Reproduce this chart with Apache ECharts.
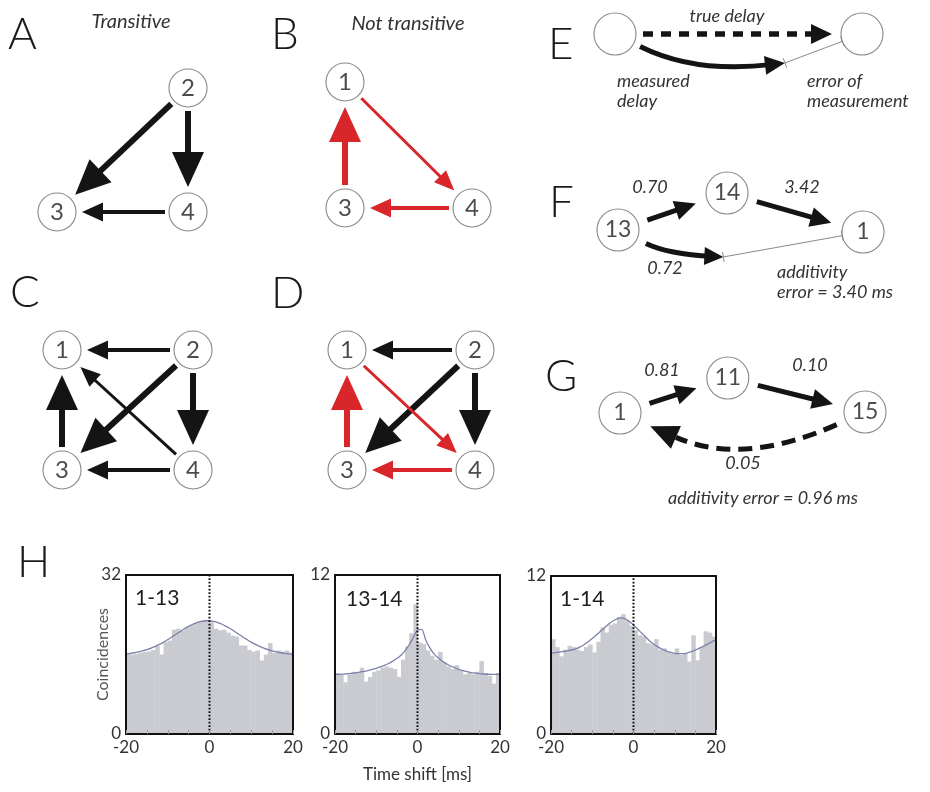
<!DOCTYPE html>
<html><head><meta charset="utf-8">
<script src="https://cdn.jsdelivr.net/npm/echarts@6/dist/echarts.min.js"></script>
<style>html,body{margin:0;padding:0;background:#fff}#c{width:930px;height:792px}</style>
</head><body><div id="c"></div>
<script>
// ================= DATA =================
// Network diagrams: nodes [id, x, y, label|null(anchor point)], edges [from, to, kind]
const A_nodes = [['2',1,1,'2'],['3',0,0,'3'],['4',1,0,'4']];
const A_edges = [['2','3','thick'],['2','4','thick'],['4','3','mid']];
const B_nodes = [['1',0,1,'1'],['3',0,0,'3'],['4',1,0,'4']];
const B_edges = [['3','1','thickRed'],['1','4','thinRed'],['4','3','midRed']];
const C_nodes = [['1',0,1,'1'],['2',1,1,'2'],['3',0,0,'3'],['4',1,0,'4']];
const C_edges = [['2','1','mid'],['2','3','thick'],['2','4','thick'],['4','1','thin'],['4','3','mid'],['3','1','thick']];
const D_nodes = [['1',0,1,'1'],['2',1,1,'2'],['3',0,0,'3'],['4',1,0,'4']];
const D_edges = [['2','1','mid'],['2','3','thick'],['2','4','thick'],['1','4','thinRed'],['4','3','midRed'],['3','1','thickRed']];
const E_nodes = [['a',0,0,''],['b',1,0,''],['m',0.688,-0.117,null]];
const E_edges = [['a','b','dashed'],['a','m','curvedE'],['m','b','error']];
const F_nodes = [['13',0,0,'13'],['14',0.445,0.151,'14'],['1',1.0,-0.008,'1'],['x',0.43,-0.11,null]];
const F_edges = [['13','14','arrow'],['14','1','arrow'],['13','x','curvedF'],['x','1','error']];
const F_delays = ['0.70','3.42','0.72'];
const F_error = '3.40';
const G_nodes = [['1',0,0,'1'],['11',0.44,0.143,'11'],['15',1.0,0.004,'15']];
const G_edges = [['1','11','arrow'],['11','15','arrow'],['15','1','dashedCurved']];
const G_delays = ['0.81','0.10','0.05'];
const G_error = '0.96';

// Cross-correlograms (panel H)
const BIN_X = [-19.5,-18.5,-17.5,-16.5,-15.5,-14.5,-13.5,-12.5,-11.5,-10.5,-9.5,-8.5,-7.5,-6.5,-5.5,-4.5,-3.5,-2.5,-1.5,-0.5,
  0.5,1.5,2.5,3.5,4.5,5.5,6.5,7.5,8.5,9.5,10.5,11.5,12.5,13.5,14.5,15.5,16.5,17.5,18.5,19.5];
const FIT_X = [-20,-19,-18,-17,-16,-15,-14,-13,-12,-11,-10,-9,-8,-7,-6,-5,-4,-3,-2,-1,0,
  1,2,3,4,5,6,7,8,9,10,11,12,13,14,15,16,17,18,19,20];
const H_names = ['1-13','13-14','1-14'];
const H_ymax = [32, 12, 12];
const H1_bins = [16.2,16.0,16.1,16.3,16.5,16.6,16.9,17.7,16.0,18.5,18.8,21.0,21.2,20.8,21.4,22.0,22.3,22.6,22.9,23.0,
  22.5,21.2,20.9,21.0,20.4,19.8,19.6,17.8,17.8,16.9,16.6,16.8,14.8,16.0,18.3,16.3,16.8,16.6,16.8,16.4];
const H1_fit = [16.13,16.23,16.35,16.51,16.71,16.96,17.27,17.62,18.03,18.49,19.00,19.53,20.09,20.64,21.17,21.66,22.09,22.43,22.66,22.79,22.79,
  22.66,22.43,22.09,21.66,21.17,20.64,20.09,19.53,19.00,18.49,18.03,17.62,17.27,16.96,16.71,16.51,16.35,16.23,16.13,16.05];
const H2_bins = [4.6,4.5,3.9,4.5,4.7,4.6,5.0,3.95,4.3,4.7,4.8,5.0,5.1,5.0,4.9,4.3,5.6,6.6,7.6,9.8,
  6.9,6.8,6.3,5.9,5.6,6.2,5.4,5.1,4.9,5.2,4.8,4.5,4.6,4.5,4.7,5.5,4.6,4.4,3.8,4.6];
const H2_fit = [4.5,4.5,4.52,4.55,4.58,4.62,4.67,4.72,4.79,4.87,4.96,5.06,5.18,5.32,5.5,5.7,5.95,6.3,6.75,7.3,7.85,
  7.9,7.1,6.5,6.05,5.75,5.5,5.3,5.13,5.0,4.88,4.78,4.7,4.64,4.6,4.56,4.53,4.51,4.5,4.5,4.52];
const H3_bins = [7.2,6.6,5.9,6.4,6.7,6.6,6.4,6.3,6.6,6.8,6.2,7.0,8.1,7.7,8.3,8.4,8.9,9.1,8.6,8.2,
  7.9,7.5,7.4,6.9,6.8,7.2,6.4,6.5,6.2,6.1,6.5,6.0,6.1,5.5,7.5,5.6,6.6,7.8,7.7,7.4];
const H3_fit = [6.15,6.18,6.22,6.27,6.32,6.38,6.47,6.6,6.78,7.0,7.25,7.52,7.8,8.07,8.35,8.58,8.75,8.82,8.75,8.55,8.28,
  7.98,7.65,7.35,7.05,6.8,6.6,6.43,6.3,6.2,6.13,6.1,6.1,6.15,6.25,6.38,6.52,6.67,6.83,7.0,7.17];
const X_LABELED = [-20, 0, 20];

// ================= STYLE / LAYOUT =================
const FONT = "Lato, 'DejaVu Sans', sans-serif";
const BLACK = '#141414', RED = '#d8262a', BAR_GRAY = '#c9cbd1', FIT_COLOR = '#7e80a8', TXT = '#1e1e1e';
const BIN_W = 1;
const EDGE_STYLE = {
  thick:    {w: 6,   hl: 35, hw: 32, color: BLACK},
  mid:      {w: 4,   hl: 21, hw: 19, color: BLACK},
  thin:     {w: 3,   hl: 20, hw: 17, color: BLACK},
  thickRed: {w: 6,   hl: 35, hw: 32, color: RED},
  midRed:   {w: 4,   hl: 21, hw: 19, color: RED},
  thinRed:  {w: 3,   hl: 20, hw: 17, color: RED},
  arrow:    {w: 5,   hl: 21, hw: 20, color: BLACK},
  dashed:   {w: 5.5, hl: 21, hw: 20, color: BLACK, dash: [10, 8]},
  curvedE:  {w: 5,   hl: 20, hw: 19, color: BLACK, curve: 0.15},
  curvedF:  {w: 5,   hl: 19, hw: 18, color: BLACK, curve: 0.1},
  dashedCurved: {w: 5, hl: 28, hw: 25, color: BLACK, dash: [14, 8], curve: -0.22},
  error:    {w: 1, color: '#8a8a8a', tick: 5}
};
const PANELS = [
  {nodes: A_nodes, edges: A_edges, origin: [57, 212], sx: 131, sy: 124, xr: [-0.3, 1.3], yr: [-0.3, 1.3], r: 19, gap: [4, 6], fs: 24},
  {nodes: B_nodes, edges: B_edges, origin: [345, 208], sx: 127, sy: 126, xr: [-0.3, 1.3], yr: [-0.3, 1.3], r: 19, gap: [4, 6], fs: 24},
  {nodes: C_nodes, edges: C_edges, origin: [62, 470], sx: 131, sy: 120, xr: [-0.3, 1.3], yr: [-0.3, 1.3], r: 19, gap: [4, 6], fs: 24},
  {nodes: D_nodes, edges: D_edges, origin: [347, 470], sx: 128, sy: 120, xr: [-0.3, 1.3], yr: [-0.3, 1.3], r: 19, gap: [4, 6], fs: 24},
  {nodes: E_nodes, edges: E_edges, origin: [615, 34], sx: 247, sy: 247, xr: [-0.15, 1.15], yr: [-0.25, 0.12], r: 21, gap: [7, 9], fs: 22},
  {nodes: F_nodes, edges: F_edges, origin: [618, 230], sx: 245, sy: 245, xr: [-0.15, 1.15], yr: [-0.25, 0.3], r: 21, gap: [10, 12], fs: 23},
  {nodes: G_nodes, edges: G_edges, origin: [620, 413], sx: 245, sy: 245, xr: [-0.15, 1.15], yr: [-0.25, 0.3], r: 21, gap: [10, 12], fs: 23}
];
const HIST = [
  {bins: H1_bins, fit: H1_fit, grid: {left: 126, top: 575, width: 167, height: 159}},
  {bins: H2_bins, fit: H2_fit, grid: {left: 335, top: 575, width: 165, height: 159}},
  {bins: H3_bins, fit: H3_fit, grid: {left: 551, top: 576, width: 165, height: 158}}
];

// ================= BUILD =================
const grid = [], xAxis = [], yAxis = [], series = [];
function unit(v) { const l = Math.hypot(v[0], v[1]) || 1; return [v[0] / l, v[1] / l]; }

function edgeRenderer(panel) {
  const idx = {};
  panel.nodes.forEach(n => { idx[n[0]] = n; });
  return function (params, api) {
    const e = panel.edges[params.dataIndex];
    const st = EDGE_STYLE[e[2]];
    const n1 = idx[e[0]], n2 = idx[e[1]];
    const a = api.coord([api.value(0), api.value(1)]);
    const b = api.coord([api.value(2), api.value(3)]);
    const r1 = n1[3] === null ? 0 : panel.r, r2 = n2[3] === null ? 0 : panel.r;
    const g1 = n1[3] === null ? 0 : panel.gap[0], g2 = n2[3] === null ? 0 : panel.gap[1];
    const L = Math.hypot(b[0] - a[0], b[1] - a[1]);
    const u = unit([b[0] - a[0], b[1] - a[1]]);
    if (st.tick) {
      const s = [a[0] + u[0] * r1, a[1] + u[1] * r1];
      const t = [b[0] - u[0] * r2, b[1] - u[1] * r2];
      const n = [-u[1] * st.tick, u[0] * st.tick];
      const ls = {stroke: st.color, lineWidth: st.w};
      return {type: 'group', children: [
        {type: 'line', shape: {x1: s[0], y1: s[1], x2: t[0], y2: t[1]}, style: ls},
        {type: 'line', shape: {x1: s[0] - n[0], y1: s[1] - n[1], x2: s[0] + n[0], y2: s[1] + n[1]}, style: ls},
        {type: 'line', shape: {x1: t[0] - n[0], y1: t[1] - n[1], x2: t[0] + n[0], y2: t[1] + n[1]}, style: ls}
      ]};
    }
    let cp = null, d1 = u, d2 = u;
    if (st.curve) {
      cp = [(a[0] + b[0]) / 2 - u[1] * st.curve * L, (a[1] + b[1]) / 2 + u[0] * st.curve * L];
      d1 = unit([cp[0] - a[0], cp[1] - a[1]]);
      d2 = unit([b[0] - cp[0], b[1] - cp[1]]);
    }
    const s = [a[0] + d1[0] * (r1 + g1), a[1] + d1[1] * (r1 + g1)];
    const tip = [b[0] - d2[0] * (r2 + g2), b[1] - d2[1] * (r2 + g2)];
    const base = [tip[0] - d2[0] * st.hl, tip[1] - d2[1] * st.hl];
    const k = st.dash ? 1.0 : 0.6;
    const se = [tip[0] - d2[0] * st.hl * k, tip[1] - d2[1] * st.hl * k];
    const nn = [-d2[1] * st.hw / 2, d2[0] * st.hw / 2];
    const lineStyle = {stroke: st.color, lineWidth: st.w, fill: null, lineDash: st.dash || null};
    const shaft = cp
      ? {type: 'bezierCurve', shape: {x1: s[0], y1: s[1], x2: se[0], y2: se[1], cpx1: cp[0], cpy1: cp[1]}, style: lineStyle}
      : {type: 'line', shape: {x1: s[0], y1: s[1], x2: se[0], y2: se[1]}, style: lineStyle};
    const head = {type: 'polygon', shape: {points: [tip, [base[0] + nn[0], base[1] + nn[1]], [base[0] - nn[0], base[1] - nn[1]]]},
      style: {fill: st.color}};
    return {type: 'group', children: [shaft, head]};
  };
}

PANELS.forEach((p, i) => {
  grid.push({left: p.origin[0] + p.xr[0] * p.sx, top: p.origin[1] - p.yr[1] * p.sy,
    width: (p.xr[1] - p.xr[0]) * p.sx, height: (p.yr[1] - p.yr[0]) * p.sy, show: false});
  xAxis.push({gridIndex: i, type: 'value', min: p.xr[0], max: p.xr[1], show: false});
  yAxis.push({gridIndex: i, type: 'value', min: p.yr[0], max: p.yr[1], show: false});
  const idx = {};
  p.nodes.forEach(n => { idx[n[0]] = n; });
  series.push({
    type: 'custom', xAxisIndex: i, yAxisIndex: i, z: 3, silent: true, clip: false,
    renderItem: edgeRenderer(p),
    data: p.edges.map(e => [idx[e[0]][1], idx[e[0]][2], idx[e[1]][1], idx[e[1]][2]])
  });
  series.push({
    type: 'scatter', xAxisIndex: i, yAxisIndex: i, z: 4, silent: true, clip: false,
    symbol: 'circle', symbolSize: 2 * p.r,
    itemStyle: {color: '#fff', borderColor: '#6a6a6a', borderWidth: 1.1},
    label: {show: p.nodes.some(n => n[3]), position: 'inside', formatter: '{b}', fontSize: p.fs,
      color: TXT, fontFamily: FONT},
    data: p.nodes.filter(n => n[3] !== null).map(n => ({name: n[3], value: [n[1], n[2]]}))
  });
});

const axisLineStyle = {color: '#111', width: 2};
HIST.forEach((h, j) => {
  const gi = grid.length;
  grid.push(Object.assign({show: false}, h.grid));
  const xb = xAxis.length;
  xAxis.push({gridIndex: gi, type: 'value', min: -20, max: 20, interval: 5, position: 'bottom', z: 6,
    axisLine: {show: true, onZero: false, lineStyle: axisLineStyle},
    axisTick: {show: true, inside: true, length: 4, lineStyle: {color: '#9a9a9a', width: 1}},
    axisLabel: {formatter: v => X_LABELED.includes(v) ? String(v) : '', fontSize: 17, color: '#333', margin: 5, fontFamily: FONT},
    splitLine: {show: false},
    name: j === 1 ? 'Time shift [ms]' : '', nameLocation: 'middle', nameGap: 32, nameMoveOverlap: false,
    nameTextStyle: {fontSize: 17, color: '#333', fontFamily: FONT}});
  xAxis.push({gridIndex: gi, type: 'value', min: -20, max: 20, position: 'top', z: 6,
    axisLine: {show: true, onZero: false, lineStyle: axisLineStyle}, axisTick: {show: false}, axisLabel: {show: false}, splitLine: {show: false}});
  const yb = yAxis.length;
  yAxis.push({gridIndex: gi, type: 'value', min: 0, max: H_ymax[j], interval: H_ymax[j], position: 'left', z: 6,
    axisLine: {show: true, onZero: false, lineStyle: axisLineStyle}, axisTick: {show: false},
    axisLabel: {fontSize: 17, color: '#333', margin: 5, fontFamily: FONT}, splitLine: {show: false},
    name: j === 0 ? 'Coincidences' : '', nameLocation: 'middle', nameGap: 15, nameRotate: 90, nameMoveOverlap: false,
    nameTextStyle: {fontSize: 16, color: '#555', fontFamily: FONT}});
  yAxis.push({gridIndex: gi, type: 'value', min: 0, max: H_ymax[j], position: 'right', z: 6,
    axisLine: {show: true, onZero: false, lineStyle: axisLineStyle}, axisTick: {show: false}, axisLabel: {show: false}, splitLine: {show: false}});
  series.push({
    type: 'custom', xAxisIndex: xb, yAxisIndex: yb, z: 2, silent: true, clip: false,
    data: BIN_X.map((x, k) => [x, h.bins[k]]),
    renderItem(params, api) {
      const c = api.value(0), v = api.value(1);
      const p0 = api.coord([c - BIN_W / 2, v]);
      const p1 = api.coord([c + BIN_W / 2, 0]);
      return {type: 'rect', shape: {x: p0[0], y: p0[1], width: p1[0] - p0[0] + 0.4, height: p1[1] - p0[1]},
        style: {fill: BAR_GRAY}};
    }
  });
  series.push({
    type: 'line', xAxisIndex: xb, yAxisIndex: yb, z: 3, silent: true, smooth: 0.3, showSymbol: false, symbol: 'none',
    lineStyle: {color: FIT_COLOR, width: 1.3},
    data: FIT_X.map((x, k) => [x, h.fit[k]])
  });
  series.push({
    type: 'line', xAxisIndex: xb, yAxisIndex: yb, z: 4, silent: true, symbol: 'none',
    lineStyle: {color: '#111', width: 2, type: [1.8, 1.7]},
    data: [[0, 0], [0, H_ymax[j]]]
  });
});

function txt(x, y, s, o) {
  o = o || {};
  return {type: 'text', x: x, y: y, silent: true, z: 10, style: {
    text: s, fill: o.color || TXT, fontSize: o.size || 18, fontFamily: FONT,
    fontStyle: o.italic ? 'italic' : 'normal', fontWeight: o.weight || 'normal',
    align: o.align || 'center', verticalAlign: 'middle',
    textAlign: o.align || 'center', textVerticalAlign: 'middle'}};
}
const LET = {size: 44, align: 'left', weight: 300, color: '#1a1a1a'};
const IT = {italic: true, size: 18, color: '#333'};
const graphic = [
  txt(8, 35, 'A', LET), txt(271, 35, 'B', LET), txt(10, 293, 'C', LET), txt(271, 294, 'D', LET),
  txt(548, 45, 'E', LET), txt(549, 203, 'F', LET), txt(545, 377, 'G', LET), txt(17, 563, 'H', LET),
  txt(131, 22, 'Transitive', Object.assign({}, IT, {size: 20})),
  txt(408, 24, 'Not transitive', Object.assign({}, IT, {size: 20})),
  txt(727, 16, 'true delay', IT),
  txt(617, 81, 'measured', Object.assign({}, IT, {align: 'left'})),
  txt(617, 101, 'delay', Object.assign({}, IT, {align: 'left'})),
  txt(807, 81, 'error of', Object.assign({}, IT, {align: 'left'})),
  txt(807, 101, 'measurement', Object.assign({}, IT, {align: 'left'})),
  txt(650, 187, F_delays[0], IT), txt(802, 187, F_delays[1], IT), txt(665, 268, F_delays[2], IT),
  txt(777, 272, 'additivity', Object.assign({}, IT, {align: 'left'})),
  txt(777, 292, 'error = ' + F_error + ' ms', Object.assign({}, IT, {align: 'left'})),
  txt(662, 370, G_delays[0], IT), txt(810, 365, G_delays[1], IT), txt(743, 463, G_delays[2], IT),
  txt(763, 498, 'additivity error = ' + G_error + ' ms', IT),
  txt(135, 598, H_names[0], {size: 21, align: 'left'}),
  txt(346, 599, H_names[1], {size: 21, align: 'left'}),
  txt(560, 599, H_names[2], {size: 21, align: 'left'})
];

const chart = echarts.init(document.getElementById('c'), null, {renderer: 'canvas'});
chart.setOption({animation: false, backgroundColor: '#fff', grid, xAxis, yAxis, series, graphic});
</script></body></html>
